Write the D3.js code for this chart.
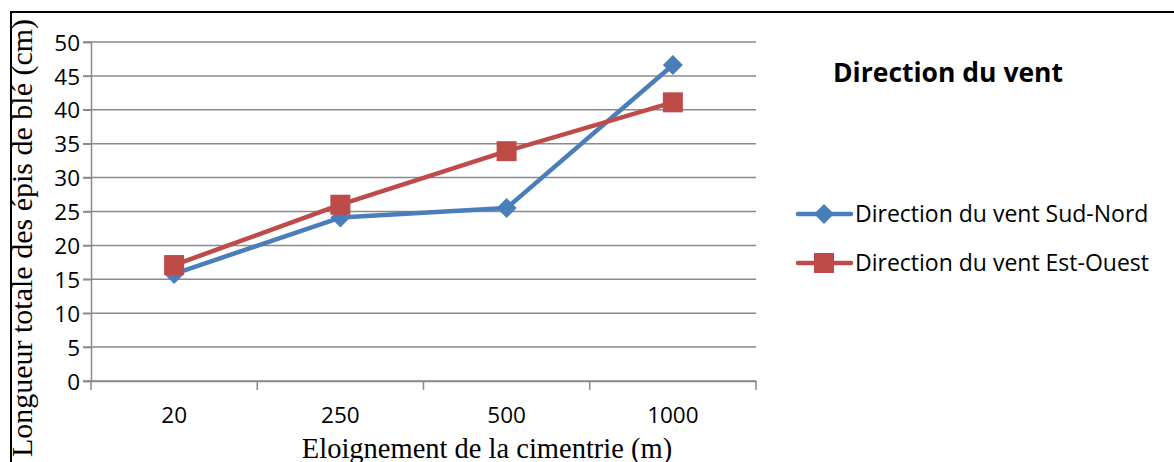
<!DOCTYPE html>
<html><head><meta charset="utf-8">
<script src="https://cdn.jsdelivr.net/npm/d3@7"></script>
<style>html,body{margin:0;padding:0;background:#fff;overflow:hidden}</style>
</head><body>
<svg id="c" width="1174" height="462"></svg>
<script>
const categories = ["20", "250", "500", "1000"];
const sudNord = [15.8, 24.1, 25.5, 46.6];
const estOuest = [17.1, 26.0, 33.9, 41.1];
const yTicks = [0, 5, 10, 15, 20, 25, 30, 35, 40, 45, 50];
const seriesNames = ["Direction du vent Sud-Nord", "Direction du vent Est-Ouest"];
const legendTitle = "Direction du vent";
const yTitle = "Longueur totale des épis de blé (cm)";
const xTitle = "Eloignement de la cimentrie (m)";

(function () {
const svg = d3.select("#c");
const blue = "#4a7ebb", red = "#be4b48", grid = "#8a8a8a";
const mLeft = 91, mRight = 756, mTop = 42, mBottom = 381;
const x = d3.scaleBand().domain(categories).range([mLeft, mRight]).padding(0);
const y = d3.scaleLinear().domain([0, 50]).range([mBottom, mTop]);
const sans = "'Open Sans', sans-serif", serif = "'Liberation Serif', 'Times New Roman', serif";

// border
svg.append("path").attr("d", "M11,463 L11,12 L1175,12").attr("fill", "none").attr("stroke", "#000").attr("stroke-width", 2);

// gridlines
svg.append("g").selectAll("line").data(yTicks).join("line")
  .attr("x1", mLeft - 8).attr("x2", mRight).attr("y1", d => y(d)).attr("y2", d => y(d))
  .attr("stroke", grid).attr("stroke-width", 1.5);

// y axis
const yAxis = svg.append("g").attr("transform", `translate(${mLeft},0)`)
  .call(d3.axisLeft(y).tickValues(yTicks).tickSize(8).tickPadding(3));
yAxis.select(".domain").attr("stroke", grid).attr("stroke-width", 1.5);
yAxis.selectAll(".tick line").attr("stroke", grid).attr("stroke-width", 1.5);
yAxis.selectAll("text").attr("font-family", sans).attr("font-size", 22.5).attr("fill", "#000").attr("dy", "0.36em");

// x axis
const xAxis = svg.append("g").attr("transform", `translate(0,${mBottom})`)
  .call(d3.axisBottom(x).tickSize(0).tickPadding(26));
xAxis.select(".domain").attr("stroke", grid).attr("stroke-width", 1.5);
xAxis.selectAll("text").attr("font-family", sans).attr("font-size", 22.5).attr("fill", "#000");
const bounds = categories.map(c => x(c)).concat([x(categories[categories.length-1]) + x.bandwidth()]);
svg.append("g").selectAll("line").data(bounds).join("line")
  .attr("x1", d => d).attr("x2", d => d).attr("y1", mBottom).attr("y2", mBottom + 9)
  .attr("stroke", grid).attr("stroke-width", 1.5);

const cx = c => x(c) + x.bandwidth() / 2;
const line = d3.line().x((d, i) => cx(categories[i])).y(d => y(d));

svg.append("path").datum(sudNord).attr("d", line).attr("fill", "none").attr("stroke", blue).attr("stroke-width", 4.5).attr("stroke-linejoin", "round");
svg.append("path").datum(estOuest).attr("d", line).attr("fill", "none").attr("stroke", red).attr("stroke-width", 4.5).attr("stroke-linejoin", "round");

const diamond = (px, py, r) => `M${px},${py-r} L${px+r},${py} L${px},${py+r} L${px-r},${py} Z`;
svg.append("g").selectAll("path").data(sudNord).join("path")
  .attr("d", (d, i) => diamond(cx(categories[i]), y(d), 10)).attr("fill", blue);
svg.append("g").selectAll("rect").data(estOuest).join("rect")
  .attr("x", (d, i) => cx(categories[i]) - 10).attr("y", d => y(d) - 10)
  .attr("width", 20).attr("height", 20).attr("fill", red);

// legend
svg.append("text").attr("x", 833).attr("y", 82).text(legendTitle)
  .attr("font-family", sans).attr("font-weight", "bold").attr("font-size", 26.5).attr("fill", "#000");
const ly = [214, 263];
[blue, red].forEach((col, i) => {
  svg.append("line").attr("x1", 798).attr("x2", 851).attr("y1", ly[i]).attr("y2", ly[i]).attr("stroke", col).attr("stroke-width", 4.5).attr("stroke-linecap", "round");
  if (i === 0) svg.append("path").attr("d", diamond(824, ly[i], 10)).attr("fill", col);
  else svg.append("rect").attr("x", 814).attr("y", ly[i] - 10).attr("width", 20).attr("height", 20).attr("fill", col);
  svg.append("text").attr("x", 855).attr("y", ly[i]).attr("dy", "0.36em").text(seriesNames[i])
    .attr("font-family", sans).attr("font-size", 23).attr("fill", "#000");
});

// axis titles
svg.append("text").attr("transform", "translate(32,238) rotate(-90)").attr("text-anchor", "middle")
  .text(yTitle).attr("font-family", serif).attr("font-size", 30).attr("fill", "#000");
svg.append("text").attr("x", 487).attr("y", 458).attr("text-anchor", "middle")
  .text(xTitle).attr("font-family", serif).attr("font-size", 28.5).attr("fill", "#000");
})();
</script>
</body></html>
